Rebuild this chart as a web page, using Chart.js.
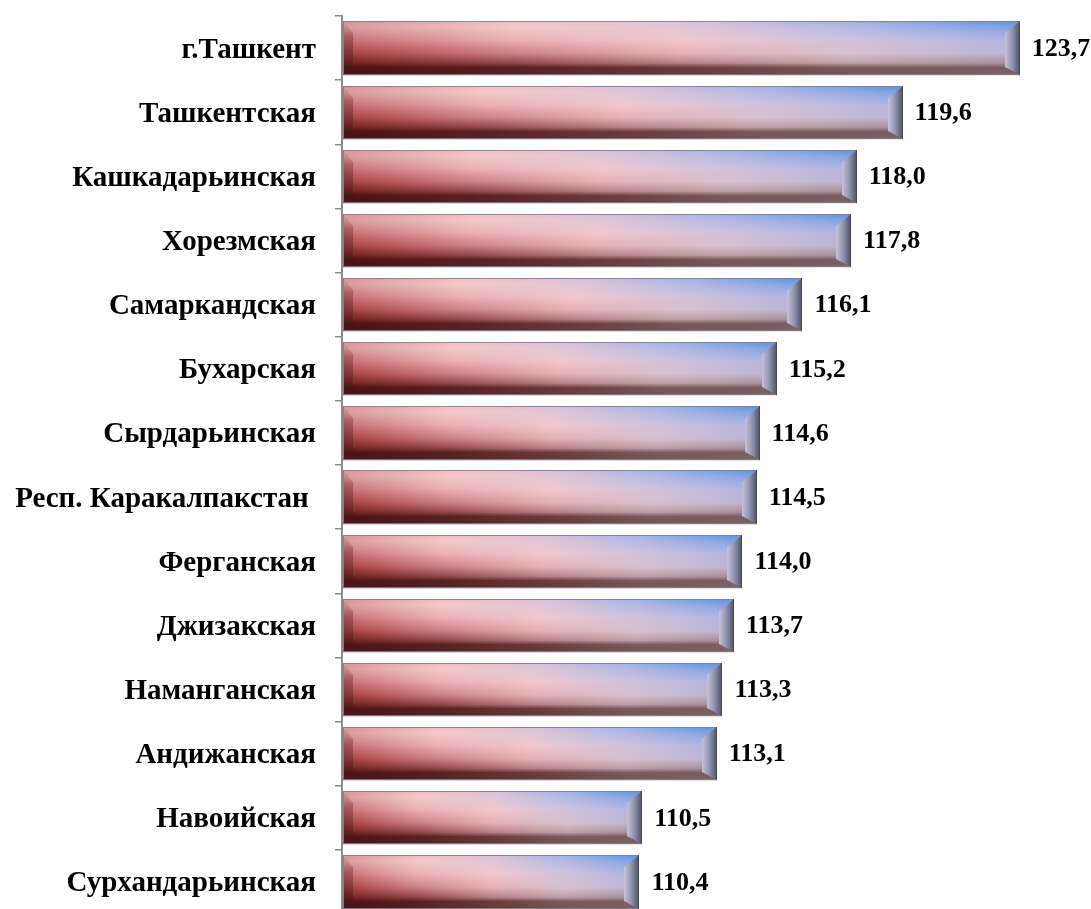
<!DOCTYPE html>
<html>
<head>
<meta charset="utf-8">
<script src="https://cdn.jsdelivr.net/npm/chart.js@4"></script>
<style>
  html, body { margin: 0; padding: 0; background: #fff; overflow: hidden; }
  #wrap { width: 1091px; height: 918px; position: relative; }
</style>
</head>
<body>
<div id="wrap"><canvas id="chart"></canvas></div>
<script>
const regions = [
  'г.Ташкент', 'Ташкентская', 'Кашкадарьинская', 'Хорезмская', 'Самаркандская',
  'Бухарская', 'Сырдарьинская', 'Респ. Каракалпакстан ', 'Ферганская', 'Джизакская',
  'Наманганская', 'Андижанская', 'Навоийская', 'Сурхандарьинская'
];
const values = [123.7, 119.6, 118.0, 117.8, 116.1, 115.2, 114.6, 114.5, 114.0, 113.7, 113.3, 113.1, 110.5, 110.4];
const axisMin = 100;
const axisMax = 125;

const FONT = "'Liberation Serif', 'Times New Roman', serif";

// colour profile of a bar, top (t=0) to bottom (t=1), sampled at 5 points along its length
const xStops = [0, 0.25, 0.5, 0.75, 1];
const rowProfiles = [
  { t: 0.00, c: ['#d89498', '#f0c0c4', '#dcc2d8', '#9eb2e8', '#5a90e0'] },
  { t: 0.12, c: ['#dc9c9e', '#f4c8ca', '#e4c6d6', '#b4bae4', '#7ea2e4'] },
  { t: 0.35, c: ['#c87070', '#eab0b4', '#f0c8ce', '#d0c2dc', '#b0b4e2'] },
  { t: 0.60, c: ['#a84040', '#cc8082', '#e6b0b4', '#d8c0cc', '#bcb4d4'] },
  { t: 0.78, c: ['#742020', '#904648', '#b48284', '#bca2aa', '#a48e9a'] },
  { t: 0.86, c: ['#4c1212', '#582020', '#6c3a3c', '#7c5a5c', '#7a5e62'] },
  { t: 1.00, c: ['#481414', '#542222', '#64383a', '#72585a', '#786064'] }
];

function hexRgb(h) {
  return [parseInt(h.slice(1, 3), 16), parseInt(h.slice(3, 5), 16), parseInt(h.slice(5, 7), 16)];
}
const profilesRgb = rowProfiles.map(p => ({ t: p.t, c: p.c.map(hexRgb) }));

function rowColors(t) {
  let i = 0;
  while (i < profilesRgb.length - 2 && t > profilesRgb[i + 1].t) i++;
  const a = profilesRgb[i], b = profilesRgb[i + 1];
  const f = Math.min(1, Math.max(0, (t - a.t) / (b.t - a.t)));
  return a.c.map((ca, k) => {
    const cb = b.c[k];
    return 'rgb(' + ca.map((v, j) => Math.round(v + (cb[j] - v) * f)).join(',') + ')';
  });
}

function drawFancyBar(ctx, L, R, T, B) {
  const h = B - T;
  const w = R - L;
  for (let yy = T; yy < B; yy++) {
    const cols = rowColors((yy - T + 0.5) / h);
    const g = ctx.createLinearGradient(L, 0, R, 0);
    cols.forEach((c, k) => g.addColorStop(xStops[k], c));
    ctx.fillStyle = g;
    ctx.fillRect(L, yy, w, 1.2);
  }

  // left bevel
  const lb = 10;
  ctx.beginPath();
  ctx.moveTo(L, T); ctx.lineTo(L + lb, T + 12); ctx.lineTo(L + lb, B - 10); ctx.lineTo(L, B); ctx.closePath();
  let g = ctx.createLinearGradient(0, T, 0, B);
  g.addColorStop(0, 'rgba(210,160,160,0.45)');
  g.addColorStop(0.3, 'rgba(130,55,55,0.5)');
  g.addColorStop(1, 'rgba(60,15,15,0.6)');
  ctx.fillStyle = g;
  ctx.fill();

  // right bevel
  const rb = 15;
  ctx.beginPath();
  ctx.moveTo(R, T); ctx.lineTo(R - rb, T + 12); ctx.lineTo(R - rb, B - 8); ctx.lineTo(R, B); ctx.closePath();
  g = ctx.createLinearGradient(R - rb, 0, R, 0);
  g.addColorStop(0, '#c6c2da');
  g.addColorStop(0.5, '#8e92ac');
  g.addColorStop(1, '#4a5068');
  ctx.fillStyle = g;
  ctx.fill();

  // outline
  ctx.strokeStyle = 'rgba(130,130,140,0.9)';
  ctx.lineWidth = 1;
  ctx.strokeRect(L + 0.5, T + 0.5, w - 1, h - 1);
  ctx.strokeStyle = 'rgba(60,60,70,0.8)';
  ctx.beginPath();
  ctx.moveTo(R - 0.5, T); ctx.lineTo(R - 0.5, B);
  ctx.stroke();
}

const fancyBars = {
  id: 'fancyBars',
  afterDatasetsDraw(chart) {
    const ctx = chart.ctx;
    const meta = chart.getDatasetMeta(0);
    ctx.save();
    meta.data.forEach((el, i) => {
      const p = el.getProps(['x', 'y', 'base', 'height'], true);
      const T = Math.round(p.y - p.height / 2);
      const B = Math.round(p.y + p.height / 2);
      drawFancyBar(ctx, Math.round(p.base) + 1, Math.round(p.x), T, B);

      ctx.fillStyle = '#000';
      ctx.font = 'bold 26px ' + FONT;
      ctx.textAlign = 'left';
      ctx.textBaseline = 'middle';
      ctx.fillText(values[i].toFixed(1).replace('.', ','), p.x + 12, p.y + 1);
    });
    ctx.restore();
  }
};

new Chart(document.getElementById('chart'), {
  type: 'bar',
  data: {
    labels: regions,
    datasets: [{
      data: values,
      base: axisMin,
      backgroundColor: 'rgba(0,0,0,0)',
      borderWidth: 0,
      barPercentage: 0.83,
      categoryPercentage: 1
    }]
  },
  options: {
    indexAxis: 'y',
    responsive: true,
    maintainAspectRatio: false,
    animation: false,
    layout: { padding: { top: 16, bottom: 4, right: 34, left: 0 } },
    plugins: { legend: { display: false }, tooltip: { enabled: false } },
    scales: {
      x: { display: false, min: axisMin, max: axisMax, beginAtZero: false },
      y: {
        afterFit(scale) {
          scale.width = 342;
          scale.paddingTop = 0;
          scale.paddingBottom = 0;
        },
        grid: { drawOnChartArea: false, tickLength: 7, color: '#8c8c8c', lineWidth: 1.5 },
        border: { display: true, color: '#8c8c8c', width: 2 },
        ticks: {
          color: '#000',
          padding: 19,
          labelOffset: 2,
          font: { family: FONT, size: 29, weight: 'bold' }
        }
      }
    }
  },
  plugins: [fancyBars]
});
</script>
</body>
</html>
